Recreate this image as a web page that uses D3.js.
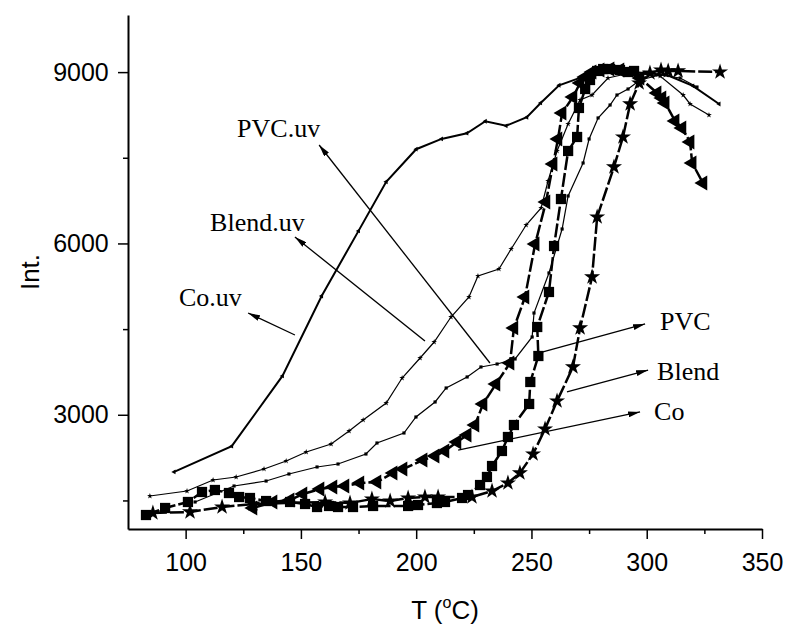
<!DOCTYPE html>
<html>
<head>
<meta charset="utf-8">
<script src="https://cdn.jsdelivr.net/npm/d3@7"></script>
<style>
  body { margin: 0; background: #fff; }
  svg { display: block; }
</style>
</head>
<body>
<div id="chart"></div>
<script>
// Data (T in °C, intensity)
const pvcT = [82.8, 91.1, 101, 107.1, 112.7, 118.8, 123.2, 127.9, 134.9, 145.3, 151.8, 157, 162.2, 166.1, 172.6, 181.3, 196.5, 200.8, 209, 212.5, 219.9, 222.5, 227.7, 230.7, 232.9, 237.2, 239.8, 242.4, 249, 249.5, 253, 252.5, 257.6, 259.8, 262.8, 265.9, 269.8, 270.6, 273.3, 275.4, 278.5, 281.1, 284.1, 288.4, 291.9, 294.5];
const pvcI = [1245, 1368, 1473, 1648, 1683, 1630, 1560, 1543, 1490, 1473, 1438, 1385, 1403, 1385, 1385, 1403, 1403, 1420, 1455, 1473, 1543, 1595, 1770, 1911, 2103, 2366, 2611, 2821, 3189, 3574, 4029, 4537, 5150, 5955, 6778, 7619, 7864, 8372, 8704, 8862, 9020, 9054, 9054, 9037, 9002, 9020];

const blendT = [85.8, 101.9, 115.8, 129.2, 160.5, 171.3, 180.8, 188.7, 196.5, 203.8, 209.5, 224.2, 232.9, 239.8, 245, 250.7, 255.9, 261.1, 268, 271.1, 276.3, 278.5, 285.8, 289.7, 292.8, 296.7, 301.4, 306.2, 309.3, 313.6, 331.8];
const blendI = [1280, 1298, 1385, 1438, 1473, 1455, 1525, 1490, 1543, 1560, 1560, 1560, 1665, 1805, 1981, 2313, 2751, 3241, 3837, 4520, 5413, 6463, 7339, 7864, 8442, 8809, 8984, 9037, 9020, 9020, 9002];

const coT = [129.2, 137.9, 145.3, 150.9, 158.3, 163.9, 169.1, 175.6, 183, 190, 194.3, 203, 208.2, 212.5, 217.7, 222.1, 225.5, 229, 234.6, 240.7, 242.4, 247.2, 251.6, 256.3, 259.4, 261.5, 263.3, 268, 271.1, 273.2, 276.3, 279.8, 284.1, 288.4, 297.1, 304.5, 306.6, 308, 312.3, 315.3, 318.8, 319.7, 324.4];
const coI = [1368, 1473, 1508, 1613, 1700, 1735, 1753, 1805, 1823, 1981, 2051, 2208, 2278, 2366, 2523, 2646, 2821, 3189, 3539, 3907, 4520, 5062, 5990, 6726, 7391, 7829, 8284, 8564, 8809, 8915, 9002, 9037, 9054, 9037, 8897, 8634, 8547, 8459, 8144, 8021, 7776, 7409, 7058];

const pvcUvT = [104.1, 121, 134.9, 144.8, 157, 166.1, 178.2, 183, 194.7, 199.9, 208.2, 213, 222.1, 228.1, 235.1, 242.9, 250.3, 251.1, 257.6, 263.3, 265.9, 272.4, 275, 278.9, 284.1, 287.1, 291.9, 297.1, 305.8, 314.5, 321.8];
const pvcUvI = [1473, 1753, 1840, 1963, 2086, 2138, 2313, 2506, 2681, 2961, 3224, 3469, 3662, 3837, 3889, 3977, 4362, 4782, 5483, 6253, 6831, 7409, 7829, 8197, 8424, 8599, 8704, 8862, 8949, 8897, 8739];

const blendUvT = [84.5, 100.6, 111.9, 121.9, 134, 143.6, 152.3, 163.1, 170.9, 177, 187, 193.9, 201.7, 207.8, 215.1, 222.9, 226.8, 235.9, 241.2, 247.7, 254.2, 257.2, 261.1, 265.9, 271.1, 276.3, 283.2, 292.8, 305.8, 315.8, 318.8, 327];
const blendUvI = [1578, 1665, 1858, 1910, 2051, 2191, 2348, 2488, 2716, 2909, 3206, 3644, 3994, 4274, 4712, 5062, 5430, 5553, 5903, 6323, 6621, 7093, 7619, 8092, 8512, 8599, 8897, 8984, 8932, 8599, 8442, 8249];

const coUvT = [95, 120, 142, 159, 175, 187, 200, 211, 222, 230, 239, 248, 254, 262, 271, 276, 281, 287, 294, 300, 308.8, 320, 331.4];
const coUvI = [2000, 2450, 3680, 5080, 6220, 7080, 7650, 7830, 7930, 8140, 8060, 8210, 8460, 8770, 8900, 8980, 9000, 8990, 9000, 8980, 8949, 8760, 8442];

const xTicks = [100, 150, 200, 250, 300, 350];
const xMinor = [125, 175, 225, 275, 325];
const yTicks = [3000, 6000, 9000];
const yMinor = [1500, 4500, 7500];

// Annotation labels: text, label anchor (T, I), arrow tail (T, I), arrow head (T, I)
const labelNames = ["PVC.uv", "Blend.uv", "Co.uv", "PVC", "Blend", "Co"];
const labelPos = [[122.3, 7864], [110.6, 6218], [97.1, 4905], [305.8, 4484], [304.5, 3609], [303.2, 2909]];
const arrowTail = [[232.0, 3907], [203.8, 4292], [147.4, 4397], [254.6, 4099], [265.4, 3399], [218.2, 2383]];
const arrowHead = [[157.9, 7724], [147.4, 6113], [127.1, 4782], [299.3, 4590], [300.6, 3784], [297.1, 3049]];

const width = 786, height = 627;

const svg = d3.select("#chart").append("svg")
    .attr("width", width)
    .attr("height", height)
    .style("background", "#fff");

const x = d3.scaleLinear().domain([75, 350]).range([128, 762]);
const y = d3.scaleLinear().domain([1000, 10000]).range([529, 15]);

const sans = "Liberation Sans, Arial, sans-serif";
const serif = "Liberation Serif, Times New Roman, serif";

// Axes
const xAxis = svg.append("g").attr("transform", `translate(0,${y.range()[0]})`)
    .call(d3.axisBottom(x).tickValues(xTicks).tickSize(10).tickSizeOuter(0).tickFormat(d3.format("d")));
svg.append("g").attr("transform", `translate(0,${y.range()[0]})`)
    .call(d3.axisBottom(x).tickValues(xMinor).tickSize(5).tickSizeOuter(0).tickFormat(""))
    .call(g => g.select(".domain").remove());

const yAxis = svg.append("g").attr("transform", `translate(${x.range()[0]},0)`)
    .call(d3.axisLeft(y).tickValues(yTicks).tickSize(10).tickSizeOuter(0).tickFormat(d3.format("d")));
svg.append("g").attr("transform", `translate(${x.range()[0]},0)`)
    .call(d3.axisLeft(y).tickValues(yMinor).tickSize(5).tickSizeOuter(0).tickFormat(""))
    .call(g => g.select(".domain").remove());

svg.selectAll(".domain").attr("stroke", "#000").attr("stroke-width", 2);
svg.selectAll(".tick line").attr("stroke", "#000").attr("stroke-width", 1.5);
xAxis.selectAll("text").attr("font-family", sans).attr("font-size", 25).attr("fill", "#000").attr("dy", "1.15em");
yAxis.selectAll("text").attr("font-family", sans).attr("font-size", 25).attr("fill", "#000").attr("dx", "-0.25em");

// Axis titles
svg.append("text")
    .attr("transform", `translate(39,${(y.range()[0] + y.range()[1]) / 2}) rotate(-90)`)
    .attr("text-anchor", "middle")
    .attr("font-family", sans).attr("font-size", 26)
    .text("Int.");

const xt = svg.append("text")
    .attr("x", (x.range()[0] + x.range()[1]) / 2)
    .attr("y", 619)
    .attr("text-anchor", "middle")
    .attr("font-family", sans).attr("font-size", 26);
xt.append("tspan").text("T (");
xt.append("tspan").attr("font-size", 16).attr("dy", -11).text("o");
xt.append("tspan").attr("dy", 11).text("C)");

// Series
const line = d3.line().x(d => x(d[0])).y(d => y(d[1]));
const zip = (a, b) => a.map((v, i) => [v, b[i]]);

const series = [
    { pts: zip(coUvT, coUvI), sw: 2, dash: null, sym: "tri", size: 10 },
    { pts: zip(blendUvT, blendUvI), sw: 1.2, dash: null, sym: "star", size: 10 },
    { pts: zip(pvcUvT, pvcUvI), sw: 1.2, dash: null, sym: "square", size: 10 },
    { pts: zip(coT, coI), sw: 2.5, dash: "14,3", sym: "tri", size: 95 },
    { pts: zip(blendT, blendI), sw: 2.5, dash: "14,3", sym: "star", size: 80 },
    { pts: zip(pvcT, pvcI), sw: 2.5, dash: "14,3", sym: "square", size: 105 }
];

const symType = { tri: d3.symbolTriangle, star: d3.symbolStar, square: d3.symbolSquare };

series.forEach(s => {
    svg.append("path")
        .datum(s.pts)
        .attr("d", line)
        .attr("fill", "none")
        .attr("stroke", "#000")
        .attr("stroke-width", s.sw)
        .attr("stroke-dasharray", s.dash);
    svg.append("g").selectAll("path")
        .data(s.pts)
        .join("path")
        .attr("d", d3.symbol(symType[s.sym], s.size))
        .attr("transform", d => `translate(${x(d[0])},${y(d[1])})` + (s.sym === "tri" ? " rotate(-90)" : ""))
        .attr("fill", "#000");
});

// Annotations
svg.append("defs").append("marker")
    .attr("id", "ah")
    .attr("viewBox", "0 0 12 6")
    .attr("refX", 12).attr("refY", 3)
    .attr("markerWidth", 12).attr("markerHeight", 6)
    .attr("markerUnits", "userSpaceOnUse")
    .attr("orient", "auto")
    .append("path").attr("d", "M0,0 L12,3 L0,6 Z").attr("fill", "#000");

labelNames.forEach((name, i) => {
    svg.append("line")
        .attr("x1", x(arrowTail[i][0])).attr("y1", y(arrowTail[i][1]))
        .attr("x2", x(arrowHead[i][0])).attr("y2", y(arrowHead[i][1]))
        .attr("stroke", "#000").attr("stroke-width", 1.3)
        .attr("marker-end", "url(#ah)");
    svg.append("text")
        .attr("x", x(labelPos[i][0])).attr("y", y(labelPos[i][1]))
        .attr("font-family", serif).attr("font-size", 26)
        .text(name);
});
</script>
</body>
</html>
